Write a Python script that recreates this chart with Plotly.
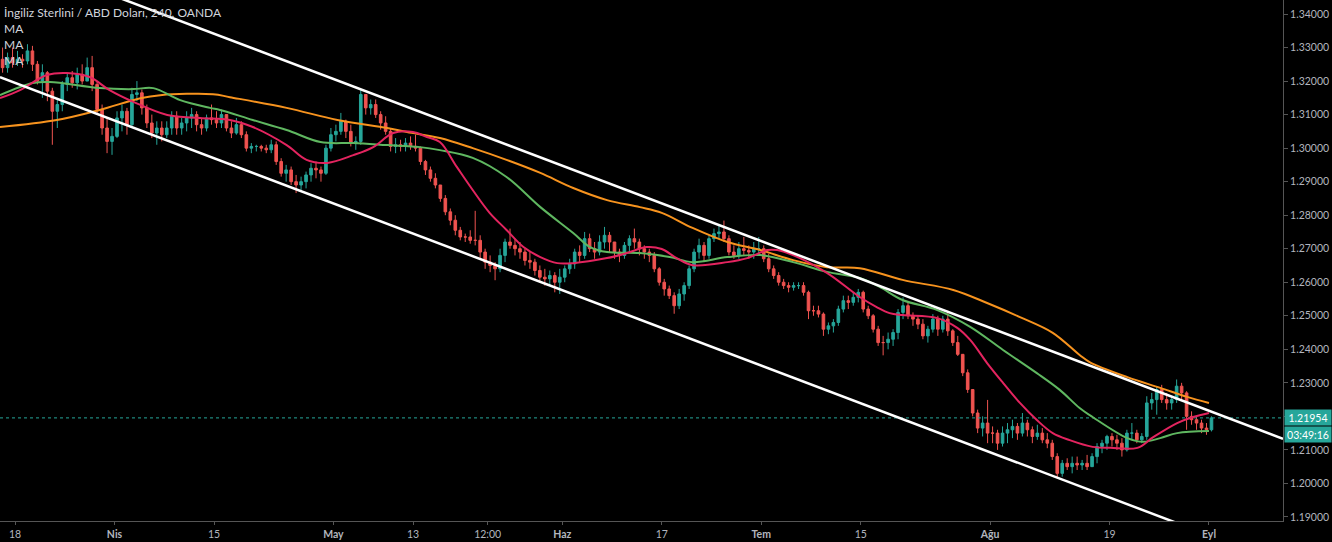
import plotly.graph_objects as go

# ---------------- data (x = trading-day index, 0 = 18 Mar 2019) ----------------
first_open = 1.3265
highs = [1.3300,1.3285,1.3300,1.3290,1.3280,1.3310,1.3305,1.3260,1.3250,1.3230,
         1.3180,1.3150,1.3200,1.3225,1.3230,1.3240,1.3250,1.3270,1.3275,1.3200,
         1.3130,1.3090,1.3060,1.3110,1.3130,1.3120,1.3180,1.3200,1.3175,1.3130,
         1.3100,1.3080,1.3080,1.3080,1.3110,1.3110,1.3090,1.3110,1.3120,1.3110,
         1.3090,1.3100,1.3130,1.3110,1.3115,1.3100,1.3080,1.3090,1.3080,1.3050,
         1.3015,1.3010,1.3010,1.3010,1.3025,1.3020,1.2970,1.2950,1.2945,1.2920,
         1.2915,1.2930,1.2955,1.2960,1.2945,1.3010,1.3060,1.3070,1.3105,1.3085,
         1.3070,1.3035,1.3177,1.3160,1.3145,1.3145,1.3110,1.3095,1.3060,1.3030,
         1.3025,1.3030,1.3035,1.3040,1.3005,1.2965,1.2945,1.2925,1.2890,1.2860,
         1.2820,1.2800,1.2765,1.2745,1.2755,1.2813,1.2740,1.2700,1.2680,1.2660,
         1.2700,1.2730,1.2760,1.2730,1.2720,1.2700,1.2690,1.2670,1.2650,1.2640,
         1.2635,1.2630,1.2640,1.2650,1.2670,1.2700,1.2710,1.2750,1.2745,1.2720,
         1.2740,1.2765,1.2750,1.2720,1.2700,1.2720,1.2740,1.2760,1.2730,1.2710,
         1.2700,1.2690,1.2645,1.2610,1.2590,1.2570,1.2580,1.2600,1.2650,1.2700,
         1.2730,1.2720,1.2740,1.2760,1.2770,1.2784,1.2740,1.2710,1.2720,1.2735,
         1.2710,1.2720,1.2735,1.2710,1.2685,1.2650,1.2630,1.2610,1.2600,1.2600,
         1.2600,1.2600,1.2575,1.2530,1.2530,1.2510,1.2480,1.2490,1.2530,1.2560,
         1.2560,1.2570,1.2580,1.2575,1.2530,1.2505,1.2470,1.2440,1.2450,1.2460,
         1.2520,1.2555,1.2540,1.2510,1.2500,1.2490,1.2470,1.2505,1.2500,1.2500,
         1.2515,1.2460,1.2440,1.2380,1.2340,1.2270,1.2220,1.2200,1.2249,1.2170,
         1.2160,1.2170,1.2180,1.2190,1.2180,1.2210,1.2190,1.2170,1.2175,1.2165,
         1.2150,1.2130,1.2090,1.2070,1.2075,1.2080,1.2080,1.2070,1.2085,1.2090,
         1.2120,1.2130,1.2145,1.2150,1.2145,1.2135,1.2160,1.2180,1.2160,1.2150,
         1.2260,1.2270,1.2290,1.2294,1.2270,1.2260,1.2310,1.2300,1.2275,1.2215,
         1.2200,1.2190,1.2180,1.2200]
lows = [1.3225,1.3225,1.3240,1.3245,1.3240,1.3250,1.3230,1.3190,1.3150,1.3140,
        1.3010,1.3060,1.3110,1.3170,1.3180,1.3175,1.3190,1.3200,1.3170,1.3100,
        1.3040,1.2985,1.2980,1.3030,1.3050,1.3040,1.3060,1.3140,1.3100,1.3060,
        1.3030,1.3010,1.3020,1.3030,1.3040,1.3040,1.3040,1.3050,1.3060,1.3050,
        1.3040,1.3050,1.3070,1.3060,1.3060,1.3050,1.3030,1.3040,1.3030,1.2990,
        1.2985,1.2990,1.2990,1.2985,1.2985,1.2950,1.2915,1.2900,1.2890,1.2866,
        1.2870,1.2880,1.2900,1.2910,1.2900,1.2920,1.2990,1.3020,1.3040,1.3030,
        1.3005,1.2995,1.3010,1.3100,1.3100,1.3090,1.3055,1.3040,1.2990,1.2985,
        1.2990,1.2990,1.2995,1.2990,1.2950,1.2920,1.2900,1.2880,1.2840,1.2800,
        1.2770,1.2740,1.2725,1.2720,1.2715,1.2710,1.2670,1.2640,1.2630,1.2606,
        1.2630,1.2660,1.2700,1.2680,1.2670,1.2650,1.2640,1.2620,1.2600,1.2590,
        1.2590,1.2570,1.2565,1.2600,1.2625,1.2640,1.2660,1.2670,1.2690,1.2670,
        1.2680,1.2700,1.2690,1.2670,1.2660,1.2670,1.2690,1.2700,1.2680,1.2670,
        1.2660,1.2630,1.2590,1.2560,1.2550,1.2506,1.2520,1.2545,1.2580,1.2630,
        1.2670,1.2660,1.2670,1.2720,1.2730,1.2720,1.2680,1.2670,1.2670,1.2680,
        1.2670,1.2670,1.2680,1.2660,1.2630,1.2610,1.2590,1.2580,1.2570,1.2575,
        1.2580,1.2560,1.2490,1.2500,1.2495,1.2440,1.2445,1.2450,1.2470,1.2510,
        1.2520,1.2530,1.2540,1.2510,1.2490,1.2450,1.2410,1.2382,1.2400,1.2410,
        1.2430,1.2490,1.2490,1.2470,1.2460,1.2430,1.2420,1.2450,1.2440,1.2450,
        1.2440,1.2410,1.2380,1.2320,1.2270,1.2200,1.2150,1.2140,1.2120,1.2120,
        1.2100,1.2110,1.2120,1.2135,1.2130,1.2140,1.2140,1.2120,1.2130,1.2120,
        1.2105,1.2070,1.2015,1.2020,1.2040,1.2030,1.2040,1.2040,1.2040,1.2050,
        1.2060,1.2090,1.2100,1.2110,1.2100,1.2080,1.2095,1.2130,1.2120,1.2120,
        1.2130,1.2220,1.2205,1.2240,1.2220,1.2220,1.2240,1.2250,1.2160,1.2175,
        1.2160,1.2150,1.2145,1.2155]
closes = [1.3240,1.3270,1.3255,1.3265,1.3260,1.3290,1.3250,1.3200,1.3225,1.3170,
          1.3110,1.3130,1.3190,1.3210,1.3195,1.3220,1.3200,1.3240,1.3190,1.3115,
          1.3060,1.3020,1.3035,1.3090,1.3110,1.3070,1.3160,1.3165,1.3120,1.3075,
          1.3045,1.3060,1.3040,1.3060,1.3095,1.3060,1.3075,1.3090,1.3100,1.3070,
          1.3060,1.3090,1.3085,1.3075,1.3100,1.3060,1.3045,1.3070,1.3040,1.3000,
          1.3005,1.3005,1.3000,1.2995,1.3010,1.2960,1.2925,1.2935,1.2900,1.2890,
          1.2900,1.2920,1.2940,1.2935,1.2925,1.3000,1.3040,1.3050,1.3080,1.3050,
          1.3015,1.3020,1.3160,1.3120,1.3130,1.3100,1.3075,1.3050,1.3005,1.3010,
          1.3005,1.3015,1.3005,1.3000,1.2960,1.2935,1.2910,1.2890,1.2850,1.2810,
          1.2785,1.2755,1.2735,1.2735,1.2725,1.2725,1.2690,1.2660,1.2650,1.2640,
          1.2680,1.2720,1.2710,1.2700,1.2690,1.2665,1.2660,1.2635,1.2615,1.2610,
          1.2620,1.2600,1.2615,1.2640,1.2655,1.2690,1.2680,1.2730,1.2700,1.2690,
          1.2720,1.2740,1.2720,1.2690,1.2680,1.2710,1.2730,1.2720,1.2700,1.2690,
          1.2680,1.2640,1.2600,1.2580,1.2560,1.2530,1.2565,1.2590,1.2640,1.2690,
          1.2710,1.2680,1.2730,1.2745,1.2750,1.2730,1.2690,1.2680,1.2700,1.2695,
          1.2690,1.2700,1.2700,1.2670,1.2640,1.2620,1.2600,1.2590,1.2585,1.2590,
          1.2590,1.2570,1.2515,1.2515,1.2505,1.2460,1.2470,1.2480,1.2520,1.2545,
          1.2540,1.2555,1.2570,1.2520,1.2500,1.2460,1.2420,1.2420,1.2430,1.2450,
          1.2510,1.2530,1.2500,1.2490,1.2475,1.2440,1.2460,1.2490,1.2460,1.2490,
          1.2455,1.2420,1.2385,1.2330,1.2280,1.2210,1.2165,1.2180,1.2150,1.2150,
          1.2120,1.2150,1.2160,1.2170,1.2150,1.2180,1.2160,1.2140,1.2150,1.2130,
          1.2120,1.2080,1.2030,1.2060,1.2050,1.2060,1.2055,1.2060,1.2050,1.2080,
          1.2110,1.2120,1.2140,1.2130,1.2120,1.2100,1.2150,1.2150,1.2130,1.2140,
          1.2240,1.2250,1.2280,1.2250,1.2240,1.2250,1.2290,1.2270,1.2200,1.2190,
          1.2180,1.2165,1.2160,1.21954]

# moving averages (trading-day index, price)
ma_fast_x = [-1.51,0.5,3.2,5.2,7.5,9.5,11.9,15.3,18.6,21.6,23.9,27.3,29.3,31.4,34.0,36.0,38.0,40.0,41.4,
             42.7,44.4,46.0,47.7,49.4,51.1,52.8,54.5,56.1,59.5,61.5,63.5,65.0,66.5,68.1,71.6,73.6,75.6,
             76.6,78.2,81.6,84.9,86.6,87.9,89.2,92.7,94.7,96.0,97.7,99.3,101.0,102.7,104.3,106.0,108.3,
             110.1,112.8,114.4,116.8,118.4,120.0]
ma_fast_y = [1.3149,1.3173,1.3218,1.3224,1.3212,1.3173,1.3138,1.3099,1.3090,1.3084,1.3063,1.3009,1.2965,
             1.2956,1.2979,1.3003,1.3045,1.3048,1.3033,1.3018,1.2944,1.2875,1.2807,1.2756,1.2705,1.2675,
             1.2657,1.2657,1.2672,1.2687,1.2705,1.2699,1.2672,1.2651,1.2660,1.2672,1.2696,1.2696,1.2681,
             1.2628,1.2556,1.2526,1.2508,1.2502,1.2493,1.2464,1.2428,1.2359,1.2300,1.2240,1.2189,1.2150,
             1.2129,1.2109,1.2106,1.2106,1.2138,1.2180,1.2198,1.2210]
ma_mid_x = [-1.51,1.8,3.5,8.5,11.9,13.9,16.6,19.6,20.6,23.9,27.3,30.7,34.0,37.4,40.7,42.7,46.0,49.4,52.8,
            56.1,57.8,59.5,62.8,65.8,68.1,71.6,74.9,78.2,81.6,84.9,86.9,89.2,92.7,96.0,99.3,102.7,105.0,
            107.0,108.3,111.8,113.4,115.1,116.8,120.0]
ma_mid_y = [1.3158,1.3194,1.3197,1.3179,1.3176,1.3179,1.3143,1.3120,1.3114,1.3084,1.3054,1.3018,1.3015,
            1.3009,1.3003,1.2994,1.2971,1.2914,1.2824,1.2747,1.2705,1.2690,1.2687,1.2675,1.2660,1.2675,
            1.2681,1.2660,1.2631,1.2613,1.2586,1.2547,1.2517,1.2467,1.2398,1.2329,1.2279,1.2225,1.2198,
            1.2135,1.2124,1.2135,1.2150,1.2156]
ma_slow_x = [-1.51,4.2,8.5,12.6,14.6,19.9,21.6,27.3,32.4,37.4,39.4,42.7,46.0,49.4,52.8,56.1,59.5,62.8,
             65.0,68.1,71.6,74.9,78.2,81.6,84.9,89.2,94.3,97.7,101.0,104.3,107.0,108.0,111.8,115.1,117.8,
             120.0]
ma_slow_y = [1.3063,1.3084,1.3114,1.3149,1.3158,1.3161,1.3152,1.3120,1.3084,1.3060,1.3048,1.3030,1.3000,
             1.2965,1.2926,1.2881,1.2845,1.2824,1.2807,1.2762,1.2720,1.2696,1.2666,1.2645,1.2642,1.2607,
             1.2577,1.2538,1.2496,1.2449,1.2383,1.2362,1.2317,1.2285,1.2258,1.2240]

# parallel channel drawing anchors
chan_upper_x = [-1.51, 127.44]
chan_upper_y = [1.3583, 1.2133]
chan_lower_x = [-1.51, 127.44]
chan_lower_y = [1.3212, 1.1762]

tick_days = [0, 10, 20, 32, 40, 47.5, 55, 65, 75, 85, 98, 110, 120]
tick_text = ["18", "<b>Nis</b>", "15", "<b>May</b>", "13", "12:00", "<b>Haz</b>", "17",
             "<b>Tem</b>", "15", "<b>Ağu</b>", "19", "<b>Eyl</b>"]
price_ticks = [1.19, 1.20, 1.21, 1.22, 1.23, 1.24, 1.25, 1.26, 1.27, 1.28, 1.29, 1.30, 1.31, 1.32, 1.33, 1.34]
x_range = [-1.51, 127.44]
y_range = [1.18879, 1.34418]
last_price = closes[-1]
countdown = "03:49:16"

# ---------------- figure ----------------
opens = [first_open] + closes[:-1]
bar_x = [-1.25 + 0.5 * k for k in range(len(closes))]

UP = "#26a69a"
DOWN = "#ef5350"
FONT = "Lato, 'Open Sans', sans-serif"

fig = go.Figure()
fig.add_trace(go.Scatter(x=x_range, y=[last_price, last_price], mode="lines",
                         line=dict(color=UP, width=1, dash="dot"), hoverinfo="skip"))
fig.add_trace(go.Candlestick(
    x=bar_x, open=opens, high=highs, low=lows, close=closes,
    increasing=dict(line=dict(color=UP, width=1), fillcolor=UP),
    decreasing=dict(line=dict(color=DOWN, width=1), fillcolor=DOWN),
    whiskerwidth=0, name="GBPUSD"))
fig.add_trace(go.Scatter(x=ma_slow_x, y=ma_slow_y, mode="lines", line=dict(color="#f7931e", width=2, shape="spline"), name="MA"))
fig.add_trace(go.Scatter(x=ma_mid_x, y=ma_mid_y, mode="lines", line=dict(color="#5fb760", width=2, shape="spline"), name="MA"))
fig.add_trace(go.Scatter(x=ma_fast_x, y=ma_fast_y, mode="lines", line=dict(color="#e3245f", width=2, shape="spline"), name="MA"))
fig.add_trace(go.Scatter(x=chan_upper_x, y=chan_upper_y, mode="lines", line=dict(color="#ffffff", width=2.5), hoverinfo="skip"))
fig.add_trace(go.Scatter(x=chan_lower_x, y=chan_lower_y, mode="lines", line=dict(color="#ffffff", width=2.5), hoverinfo="skip"))

axis_col = "#555555"
label_col = "#b2b5be"
fig.update_layout(
    width=1332, height=542,
    margin=dict(l=0, r=49, t=0, b=21),
    paper_bgcolor="#000000", plot_bgcolor="#000000",
    showlegend=False,
    boxgap=0.25,
    font=dict(family=FONT, color=label_col, size=11),
    xaxis=dict(range=x_range, rangeslider=dict(visible=False), showgrid=False, zeroline=False,
               showline=True, linecolor=axis_col, linewidth=1, ticks="outside", ticklen=3,
               tickcolor=axis_col, tickvals=tick_days, ticktext=tick_text,
               tickfont=dict(family=FONT, size=10.5, color=label_col)),
    yaxis=dict(range=y_range, side="right", showgrid=False, zeroline=False, showline=True,
               linecolor=axis_col, linewidth=1, ticks="outside", ticklen=4, tickcolor=axis_col,
               tickvals=price_ticks, ticktext=[f"{p:.5f}" for p in price_ticks],
               tickfont=dict(family=FONT, size=10.5, color=label_col)),
)

fig.add_annotation(x=1, xref="paper", xanchor="left", y=last_price, yref="y", text=f"{last_price:.5f}",
                   showarrow=False, bgcolor=UP, font=dict(color="#ffffff", size=10.5, family=FONT),
                   width=44, height=13, borderpad=1, xshift=1)
fig.add_annotation(x=1, xref="paper", xanchor="left", y=last_price, yref="y", text=countdown,
                   showarrow=False, bgcolor=UP, font=dict(color="#ffffff", size=10.5, family=FONT),
                   width=44, height=13, borderpad=1, xshift=1, yshift=-17)

legend_lines = ["İngiliz Sterlini / ABD Doları, 240, OANDA", "MA", "MA", "MA"]
for i, t in enumerate(legend_lines):
    fig.add_annotation(x=0, xref="paper", xanchor="left", y=1, yref="paper", yanchor="top",
                       text=t, showarrow=False, xshift=2, yshift=-3 - 16 * i,
                       font=dict(color="#d1d4dc", size=12, family=FONT))

fig.write_html("out.html", config={"displayModeBar": False},
               post_script="document.body.style.margin='0';document.body.style.overflow='hidden';")
